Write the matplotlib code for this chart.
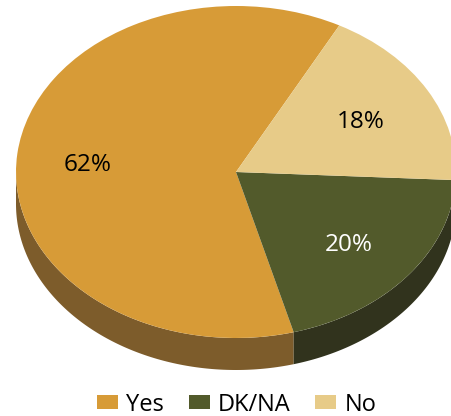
import numpy as np
import matplotlib
matplotlib.use("Agg")
import matplotlib.pyplot as plt
from matplotlib.transforms import ScaledTranslation

labels = ["Yes", "DK/NA", "No"]
values = [62, 20, 18]
colors = ["#D79B37", "#525A2B", "#E7CB88"]
side_colors = ["#7D5C2B", "#31331D", "#8F7C50"]
text_colors = ["black", "white", "black"]

W, H = 452, 416
CX, CY = 236, 172   # centre of the top face, pixels
RX, RY = 220, 166
DEPTH = 32 / RY
START = 62

plt.rcParams["font.family"] = ["Open Sans", "DejaVu Sans"]

fig = plt.figure(figsize=(W / 100, H / 100), dpi=100)
ax = fig.add_axes([0, 0, 1, 1])

# top face
wedges, _, autotexts = ax.pie(
    values, colors=colors, startangle=START, radius=1, center=(0, 0),
    autopct=lambda p: f"{p:.0f}%", pctdistance=0.66, frame=False,
    textprops={"fontsize": 17.5}, wedgeprops={"linewidth": 0, "zorder": 3},
)
# nudge the percent labels, in pixels
nudges = [(-4, -5), (0, -4), (-2, -4)]
for t, c, (dx, dy) in zip(autotexts, text_colors, nudges):
    t.set_color(c)
    t.set_zorder(5)
    t.set_transform(t.get_transform() + ScaledTranslation(dx / 100, dy / 100, fig.dpi_scale_trans))

# side of the cake, only the lower half shows
start = float(START)
for v, c in zip(values, side_colors):
    end = start + v / sum(values) * 360
    for lo, hi in [(180, 360), (540, 720)]:
        a, b = max(start, lo), min(end, hi)
        if a < b:
            th = np.radians(np.linspace(a, b, 120))
            xs = np.cos(th)
            ys = np.sin(th)
            ax.fill(np.r_[xs, xs[::-1]], np.r_[ys, ys[::-1] - DEPTH], color=c, lw=0, zorder=2)
    start = end

# stretch the circle into an ellipse
ax.set_aspect("auto")
ax.set_xlim(-CX / RX, (W - CX) / RX)
ax.set_ylim(-(H - CY) / RY, CY / RY)
ax.axis("off")

leg = ax.legend(
    wedges, labels, ncol=3, loc="lower center", bbox_to_anchor=(0.523, -0.030),
    frameon=False, fontsize=17, handlelength=0.89, handleheight=0.55,
    handletextpad=0.34, columnspacing=1.06, borderpad=0,
)

fig.savefig("out.png", dpi=100)
